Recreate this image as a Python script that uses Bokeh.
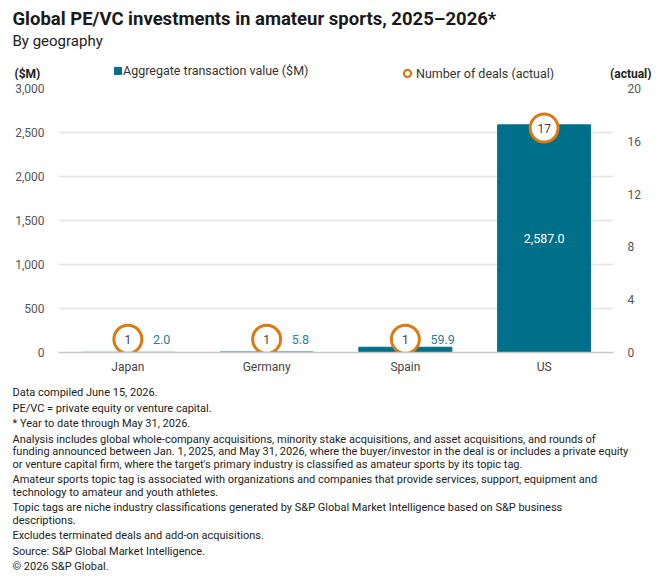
from bokeh.plotting import figure
from bokeh.layouts import column
from bokeh.models import (ColumnDataSource, Range1d, LinearAxis, FixedTicker,
                          NumeralTickFormatter, Label, Legend, LegendItem, FactorRange)
from bokeh.core.properties import value
from bokeh.embed import file_html
from bokeh.resources import INLINE

# ---- data ----
geographies = ["Japan", "Germany", "Spain", "US"]
transaction_value = [2.0, 5.8, 59.9, 2587.0]      # $M
deal_count = [1, 1, 1, 17]                         # actual

left_ticks = [0, 500, 1000, 1500, 2000, 2500, 3000]
right_ticks = [0, 4, 8, 12, 16, 20]

title = "Global PE/VC investments in amateur sports, 2025\u20132026*"
subtitle = "By geography"
footnotes = [
    ["Data compiled June 15, 2026."],
    ["PE/VC = private equity or venture capital."],
    ["* Year to date through May 31, 2026."],
    ["Analysis includes global whole-company acquisitions, minority stake acquisitions, and asset acquisitions, and rounds of",
     "funding announced between Jan. 1, 2025, and May 31, 2026, where the buyer/investor in the deal is or includes a private equity",
     "or venture capital firm, where the target's primary industry is classified as amateur sports by its topic tag."],
    ["Amateur sports topic tag is associated with organizations and companies that provide services, support, equipment and",
     "technology to amateur and youth athletes."],
    ["Topic tags are niche industry classifications generated by S&P Global Market Intelligence based on S&P business",
     "descriptions."],
    ["Excludes terminated deals and add-on acquisitions."],
    ["Source: S&P Global Market Intelligence."],
    ["\u00a9 2026 S&P Global."],
]

TEAL = "#006F89"
ORANGE = "#DA7A10"
FONT = "Roboto"

W = 660
HEAD_H, MAIN_H, FOOT_H = 80, 301, 200
FL, FR = 58, 613            # plot frame left / right
FRAME_TOP, FRAME_BOTTOM = 8, 272   # inside the main figure


def blank(height):
    """A text-only figure whose frame fills its whole canvas."""
    f = figure(width=W, height=height, x_range=Range1d(0, 1), y_range=Range1d(0, 1),
               output_backend="svg", toolbar_location=None, min_border=0,
               frame_align=False)
    f.axis.visible = False
    f.grid.visible = False
    f.outline_line_color = None
    f.title.visible = False
    return f


def put(fig, height, text, x, y, size, color="#222222", style="normal", align="left"):
    # x, y are canvas pixels measured from the top-left corner
    fig.add_layout(Label(x=x, y=height - y, x_units="screen", y_units="screen", text=text,
                         text_font=FONT, text_font_size=size, text_color=color,
                         text_font_style=style, text_align=align, text_baseline="middle"))


# ---- header: title, subtitle, axis units and legend ----
head = blank(HEAD_H)
put(head, HEAD_H, title, 12, 18, "18.5px", "#1A1A1A", "bold")
put(head, HEAD_H, subtitle, 12, 40, "15px", "#222222")
put(head, HEAD_H, "($M)", 14, 73, "12px", "#222222", "bold")
put(head, HEAD_H, "(actual)", 651, 73, "12px", "#222222", "bold", "right")

# legend proxies: zero-size marks that only lend their style to the legend
leg_bar = head.vbar(x=[0], top=[0], bottom=[0], width=0, color=TEAL)
leg_circ = head.scatter(x=[0], y=[0], marker="circle", size=0, fill_color="white",
                        line_color=ORANGE, line_width=2.3)
for item, x, g in [(LegendItem(label="Aggregate transaction value ($M)", renderers=[leg_bar]), 113, 9),
                   (LegendItem(label="Number of deals (actual)", renderers=[leg_circ]), 398, 18)]:
    lg = Legend(items=[item], location=(x, HEAD_H - 73 - g / 2), orientation="horizontal",
                padding=0, margin=0, spacing=0, glyph_width=g, glyph_height=g,
                label_standoff=1 if g < 10 else -1, label_height=12, label_text_font=FONT,
                label_text_font_size="12.5px", label_text_color="#333333",
                label_text_baseline="middle",
                background_fill_alpha=0, border_line_color=None)
    head.add_layout(lg, "center")

# ---- main chart ----
inside = [v > 1000 for v in transaction_value]
src = ColumnDataSource(dict(
    geo=geographies,
    val=transaction_value,
    deals=deal_count,
    deal_txt=[str(d) for d in deal_count],
))
out_src = ColumnDataSource(dict(
    geo=[g for g, i in zip(geographies, inside) if not i],
    deals=[d for d, i in zip(deal_count, inside) if not i],
    txt=[f"{v:,.1f}" for v, i in zip(transaction_value, inside) if not i],
))
in_src = ColumnDataSource(dict(
    geo=[g for g, i in zip(geographies, inside) if i],
    half=[v / 2 for v, i in zip(transaction_value, inside) if i],
    txt=[f"{v:,.1f}" for v, i in zip(transaction_value, inside) if i],
))

p = figure(width=W, height=MAIN_H, x_range=FactorRange(*geographies, range_padding=0),
           y_range=Range1d(0, 3000), output_backend="svg", toolbar_location=None,
           min_border_left=FL, min_border_right=W - FR, min_border_top=FRAME_TOP,
           min_border_bottom=MAIN_H - FRAME_BOTTOM, frame_align=False)
p.title.visible = False
p.outline_line_color = None
p.extra_y_ranges = {"deals": Range1d(0, 20)}

p.yaxis.ticker = FixedTicker(ticks=left_ticks)
p.yaxis.formatter = NumeralTickFormatter(format="0,0")
raxis = LinearAxis(y_range_name="deals", ticker=FixedTicker(ticks=right_ticks))
p.add_layout(raxis, "right")
for ax in [p.yaxis[0], raxis]:
    ax.axis_line_color = None
    ax.major_tick_line_color = None
    ax.minor_tick_line_color = None
    ax.major_label_text_font = FONT
    ax.major_label_text_font_size = "12px"
    ax.major_label_text_color = "#555555"
    ax.major_label_standoff = 8

p.xaxis.axis_line_color = "#C8C8C8"
p.xaxis.axis_line_width = 1.5
p.xaxis.major_tick_line_color = None
p.xaxis.minor_tick_line_color = None
p.xaxis.major_label_text_font = FONT
p.xaxis.major_label_text_font_size = "12px"
p.xaxis.major_label_text_color = "#444444"
p.xaxis.major_label_standoff = 1

p.xgrid.grid_line_color = None
p.ygrid.grid_line_color = "#E4E4E4"
p.ygrid.grid_line_width = 1.5

bars = p.vbar(x="geo", top="val", width=0.67, source=src, color=TEAL)

p.scatter(x="geo", y="deals", y_range_name="deals", source=src, size=28,
          marker="circle", fill_color="white", line_color=ORANGE, line_width=3)
p.text(x="geo", y="deals", y_range_name="deals", text="deal_txt", source=src,
       text_align="center", text_baseline="middle", text_font=value(FONT),
       text_font_size="12px", text_color="#444444")

p.text(x="geo", y="deals", y_range_name="deals", text="txt", source=out_src,
       x_offset=25, text_align="left", text_baseline="middle", text_font=value(FONT),
       text_font_size="12.5px", text_color="#2B7C98")
p.text(x="geo", y="half", text="txt", source=in_src,
       text_align="center", text_baseline="middle", text_font=value(FONT),
       text_font_size="12.5px", text_color="white")

# ---- footer notes ----
foot = blank(FOOT_H)
y = 392 - (HEAD_H + MAIN_H)
for para in footnotes:
    for line in para:
        put(foot, FOOT_H, line, 12, y, "11px", "#222222")
        y += 12.5
    y += 3

layout = column(head, p, foot, spacing=0)
open("out.html", "w").write(file_html(layout, INLINE))
